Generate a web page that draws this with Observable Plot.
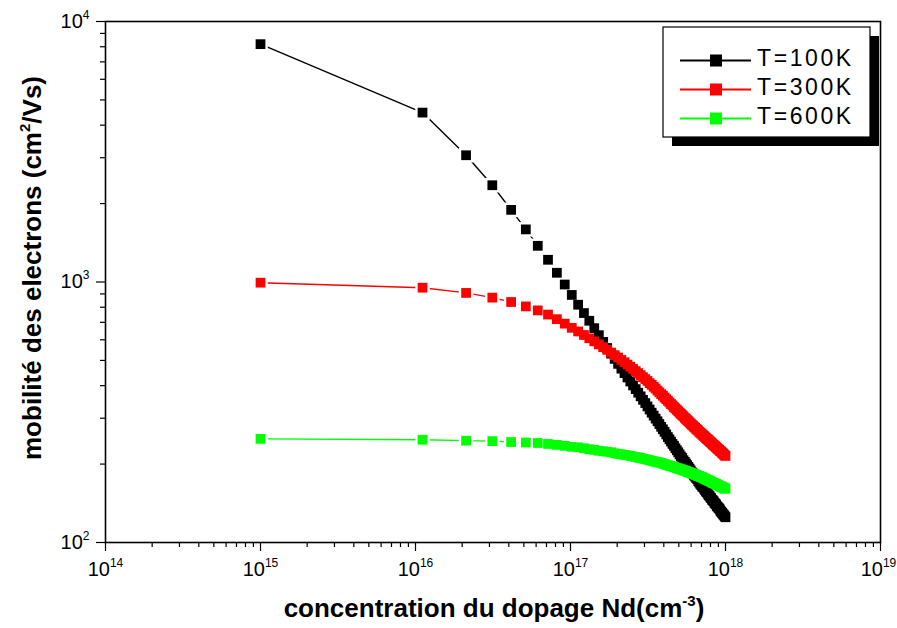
<!DOCTYPE html>
<html>
<head>
<meta charset="utf-8">
<script src="https://cdn.jsdelivr.net/npm/d3@7"></script>
<script src="https://cdn.jsdelivr.net/npm/@observablehq/plot@0.6"></script>
<style>
  body { margin: 0; background: #fff; }
  svg { display: block; }
</style>
</head>
<body>
<div id="chart"></div>
<script>
// Donor concentration Nd, in units of 1e16 cm^-3
const concentration = [
  0.10, 1.11, 2.12, 3.13, 4.14, 5.15, 6.15, 7.16, 8.17, 9.18,
  10.19, 11.2, 12.21, 13.22, 14.23, 15.24, 16.25, 17.25, 18.26, 19.27,
  20.28, 21.29, 22.3, 23.31, 24.32, 25.33, 26.34, 27.35, 28.35, 29.36,
  30.37, 31.38, 32.39, 33.4, 34.41, 35.42, 36.43, 37.44, 38.45, 39.45,
  40.46, 41.47, 42.48, 43.49, 44.5, 45.51, 46.52, 47.53, 48.54, 49.55,
  50.55, 51.56, 52.57, 53.58, 54.59, 55.6, 56.61, 57.62, 58.63, 59.64,
  60.65, 61.65, 62.66, 63.67, 64.68, 65.69, 66.7, 67.71, 68.72, 69.73,
  70.74, 71.75, 72.75, 73.76, 74.77, 75.78, 76.79, 77.8, 78.81, 79.82,
  80.83, 81.84, 82.85, 83.85, 84.86, 85.87, 86.88, 87.89, 88.9, 89.91,
  90.92, 91.93, 92.94, 93.95, 94.95, 95.96, 96.97, 97.98, 98.99, 100
];

// Electron mobility (cm^2/Vs) at each concentration
const mobility100K = [
  8185, 4470, 3066, 2352, 1892, 1592, 1377, 1217, 1085, 978, 892, 818, 760, 710,
  665, 625, 589, 558, 531, 507, 485, 465, 447, 430, 415, 401, 388, 376,
  364, 353, 343, 333, 324, 315, 307, 299, 292, 285, 278, 272, 266, 260,
  254, 249, 244, 239, 235, 230, 226, 222, 218, 214, 211, 207, 204, 201,
  198, 195, 192, 189, 186, 184, 181, 179, 177, 175, 172, 170, 168, 166,
  164, 163, 161, 159, 157, 156, 154, 152, 151, 149, 148, 146, 145, 144,
  142, 141, 140, 138, 137, 136, 135, 134, 132, 131, 130, 129, 128, 127,
  126, 125
];
const mobility300K = [
  994, 951, 908, 871, 838, 806, 778, 750, 720, 692, 667, 646, 626, 608,
  592, 576, 562, 549, 536, 524, 513, 502, 492, 482, 473, 464, 455, 447,
  439, 431, 424, 417, 409, 403, 396, 390, 383, 377, 371, 366, 360, 355,
  350, 345, 340, 336, 331, 327, 323, 319, 315, 312, 308, 305, 301, 298,
  295, 292, 289, 286, 283, 281, 278, 276, 273, 271, 269, 266, 264, 262,
  260, 258, 256, 254, 252, 250, 249, 247, 245, 243, 242, 240, 238, 237,
  235, 234, 232, 231, 229, 228, 227, 225, 224, 223, 221, 220, 219, 217,
  216, 215
];
const mobility600K = [
  250, 248, 246, 245, 243, 242, 241, 239, 237, 235, 233, 232, 230, 228,
  227, 225, 224, 223, 222, 220, 219, 218, 217, 216, 215, 214, 213, 212,
  211, 210, 209, 208, 207, 206, 205, 204, 203, 203, 202, 201, 200, 199,
  198, 197, 196, 196, 195, 194, 193, 192, 192, 191, 190, 189, 189, 188,
  187, 186, 186, 185, 184, 184, 183, 182, 182, 181, 180, 180, 179, 178,
  178, 177, 176, 176, 175, 174, 174, 173, 172, 172, 171, 170, 170, 169,
  169, 168, 168, 167, 166, 166, 165, 165, 164, 164, 163, 163, 162, 162,
  161, 161
];

const temperatures = ["T=100K", "T=300K", "T=600K"];
const colors = ["#000000", "#ff0000", "#00ff00"];
const xMajorTicks = [1e14, 1e15, 1e16, 1e17, 1e18, 1e19];
const yMajorTicks = [1e2, 1e3, 1e4];
const xTitle = ["concentration du dopage Nd(cm", "-3", ")"];
const yTitle = ["mobilité des electrons (cm", "2", "/Vs)"];

const seriesValues = [mobility100K, mobility300K, mobility600K];
const rows = seriesValues.flatMap((values, s) =>
  values.map((mu, i) => ({N: concentration[i] * 1e16, mu, T: temperatures[s]}))
);

// minor log ticks 2..9 within each decade
const minorTicks = (lo, hi) => d3.range(lo, hi).flatMap(e => d3.range(2, 10).map(m => m * 10 ** e));
const powerLabel = d => "10^" + Math.round(Math.log10(d));

const FONT = "'Liberation Sans', Arial, Helvetica, sans-serif";

const chart = Plot.plot({
  width: 897,
  height: 628,
  marginLeft: 105,
  marginRight: 17,
  marginTop: 21,
  marginBottom: 86,
  style: {fontFamily: FONT, background: "#fff", color: "#000", overflow: "visible"},
  x: {type: "log", domain: [1e14, 1e19]},
  y: {type: "log", domain: [1e2, 1e4]},
  color: {domain: temperatures, range: colors},
  marks: [
    Plot.axisX({ticks: minorTicks(14, 19), tickSize: 5, tickFormat: () => "", label: null, strokeWidth: 1.2}),
    Plot.axisY({ticks: minorTicks(2, 4), tickSize: 5, tickFormat: () => "", label: null, strokeWidth: 1.2}),
    Plot.axisX({ticks: xMajorTicks, tickSize: 9, tickPadding: 10, tickFormat: powerLabel, label: null, strokeWidth: 1.2}),
    Plot.axisY({ticks: yMajorTicks, tickSize: 9, tickPadding: 7, tickFormat: powerLabel, label: null, strokeWidth: 1.2}),
    Plot.line(rows, {x: "N", y: "mu", z: "T", stroke: "T", strokeWidth: 1.4}),
    // white gap around each symbol, as the connecting lines stop short of the markers
    Plot.dot(rows, {x: "N", y: "mu", symbol: "square", r: 8.2, fill: "#fff"}),
    Plot.dot(rows, {x: "N", y: "mu", symbol: "square", r: 5.5, fill: "T"}),
    Plot.frame({stroke: "#000", strokeWidth: 1.6})
  ]
});

const svg = d3.select(chart);

// powers of ten as base + superscript exponent
svg.selectAll('g[aria-label="x-axis tick label"] text, g[aria-label="y-axis tick label"] text').each(function () {
  const s = this.textContent;
  if (!s.includes("^")) return;
  const [base, exp] = s.split("^");
  const t = d3.select(this).text(null).attr("font-size", 20).attr("fill", "#000");
  if (exp === "19") t.attr("dx", -2);
  t.append("tspan").text(base);
  t.append("tspan").attr("font-size", 12).attr("dy", -9).text(exp);
});

// axis titles
const xt = svg.append("text")
  .attr("x", 494).attr("y", 617)
  .attr("text-anchor", "middle").attr("font-weight", "bold").attr("font-size", 26).attr("fill", "#000");
xt.append("tspan").text(xTitle[0]);
xt.append("tspan").attr("font-size", 15).attr("dy", -11).text(xTitle[1]);
xt.append("tspan").attr("dy", 11).text(xTitle[2]);

const yt = svg.append("text")
  .attr("transform", "translate(41,268) rotate(-90)")
  .attr("text-anchor", "middle").attr("font-weight", "bold").attr("font-size", 26).attr("fill", "#000");
yt.append("tspan").text(yTitle[0]);
yt.append("tspan").attr("font-size", 15).attr("dy", -11).text(yTitle[1]);
yt.append("tspan").attr("dy", 11).text(yTitle[2]);

// legend box with drop shadow
const lg = svg.append("g").attr("text-anchor", "start");
lg.append("rect").attr("x", 672).attr("y", 36).attr("width", 207).attr("height", 110).attr("fill", "#000");
lg.append("rect").attr("x", 663).attr("y", 27).attr("width", 207).attr("height", 110)
  .attr("fill", "#fff").attr("stroke", "#000").attr("stroke-width", 1.2);
temperatures.forEach((t, i) => {
  const cy = 60.5 + i * 29;
  lg.append("line").attr("x1", 680).attr("x2", 751).attr("y1", cy).attr("y2", cy)
    .attr("stroke", colors[i]).attr("stroke-width", 2);
  lg.append("rect").attr("x", 710).attr("y", cy - 6).attr("width", 12).attr("height", 12).attr("fill", colors[i]);
  lg.append("text").attr("x", 757).attr("y", cy + 5.5).attr("font-size", 23).attr("text-anchor", "start")
    .attr("letter-spacing", 2.6).attr("fill", "#000").text(t);
});

document.getElementById("chart").append(chart);
</script>
</body>
</html>
